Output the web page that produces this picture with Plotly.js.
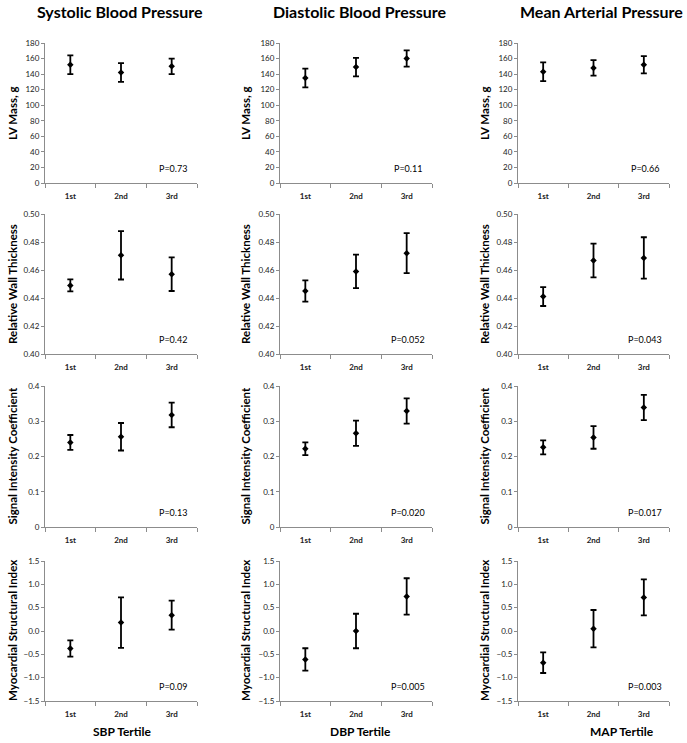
<!DOCTYPE html>
<html>
<head>
<meta charset="utf-8">
<script src="https://cdn.plot.ly/plotly-3.0.1.min.js"></script>
<style>html,body{margin:0;padding:0;background:#fff;}#chart{width:687px;height:743px;}</style>
</head>
<body>
<div id="chart"></div>
<script>
// ---- data ----
const tertiles = ['1st', '2nd', '3rd'];
const columnTitles = ['Systolic Blood Pressure', 'Diastolic Blood Pressure', 'Mean Arterial Pressure'];
const xTitles = ['SBP Tertile', 'DBP Tertile', 'MAP Tertile'];
const measureTitles = ['LV Mass, g', 'Relative Wall Thickness', 'Signal Intensity Coefficient', 'Myocardial Structural Index'];

// rows: [SBP, DBP, MAP]
const lvMassMean = [[152, 142, 150], [135, 149, 160], [143, 148, 152]];
const lvMassErr  = [[12, 12, 10], [12, 12, 10.5], [12, 10, 11]];
const lvMassP    = ['P=0.73', 'P=0.11', 'P=0.66'];

const rwtMean = [[0.449, 0.4705, 0.457], [0.445, 0.459, 0.472], [0.441, 0.4668, 0.4686]];
const rwtErr  = [[0.0043, 0.0173, 0.012], [0.0076, 0.012, 0.0143], [0.0067, 0.012, 0.0148]];
const rwtP    = ['P=0.42', 'P=0.052', 'P=0.043'];

const sicMean = [[0.240, 0.256, 0.318], [0.222, 0.266, 0.329], [0.226, 0.254, 0.339]];
const sicErr  = [[0.021, 0.039, 0.035], [0.018, 0.036, 0.036], [0.020, 0.032, 0.036]];
const sicP    = ['P=0.13', 'P=0.020', 'P=0.017'];

const msiMean = [[-0.375, 0.18, 0.34], [-0.61, 0.0, 0.74], [-0.68, 0.05, 0.72]];
const msiErr  = [[0.175, 0.54, 0.31], [0.24, 0.37, 0.39], [0.22, 0.40, 0.385]];
const msiP    = ['P=0.09', 'P=0.005', 'P=0.003'];

const yRanges = [[0, 180], [0.40, 0.50], [0, 0.4], [-1.5, 1.5]];
const yDticks = [20, 0.02, 0.1, 0.5];
const yFormats = ['d', '.2f', '', '.1f'];

// ---- layout helpers ----
const W = 687, H = 743;
const colPx = [[45, 197], [280, 432], [518, 669]];
const rowPx = [[43, 183], [214, 354], [386, 527], [561, 701]];
const yTitleX = [12, 245, 484];
const colTitleX = [120, 360, 601];
const xTitleX = [122, 360, 622];

const means = [lvMassMean, rwtMean, sicMean, msiMean];
const errs = [lvMassErr, rwtErr, sicErr, msiErr];
const ps = [lvMassP, rwtP, sicP, msiP];

const FONT = 'Lato, "Open Sans", sans-serif';
const data = [];
const layout = {
  width: W, height: H,
  margin: {l: 0, r: 0, t: 0, b: 0},
  paper_bgcolor: '#fff', plot_bgcolor: '#fff',
  showlegend: false,
  font: {family: FONT, color: '#000'},
  annotations: []
};

let idx = 0;
for (let r = 0; r < 4; r++) {
  for (let c = 0; c < 3; c++) {
    idx++;
    const sfx = idx === 1 ? '' : String(idx);
    const xa = 'xaxis' + sfx, ya = 'yaxis' + sfx;
    data.push({
      type: 'scatter', mode: 'markers',
      x: [1, 2, 3], y: means[r][c],
      xaxis: 'x' + sfx, yaxis: 'y' + sfx,
      marker: {symbol: 'diamond', size: 5, color: '#000'},
      error_y: {type: 'data', array: errs[r][c], visible: true, color: '#000', thickness: 1.8, width: 3},
      hoverinfo: 'y'
    });
    layout[xa] = {
      domain: [colPx[c][0] / W, colPx[c][1] / W],
      anchor: 'y' + sfx,
      range: [0.5, 3.5],
      tickmode: 'array', tickvals: [1, 2, 3], ticktext: tertiles,
      ticks: '', showgrid: false, zeroline: false,
      showline: true, linecolor: '#8c8c8c', linewidth: 1,
      ticklabelstandoff: 5,
      tickfont: {size: 8, color: '#222', family: FONT, weight: 'bold'},
      minor: {tick0: 0.5, dtick: 1, ticks: 'outside', ticklen: 4, tickcolor: '#8c8c8c', showgrid: false},
      fixedrange: true
    };
    layout[ya] = {
      domain: [1 - rowPx[r][1] / H, 1 - rowPx[r][0] / H],
      anchor: 'x' + sfx,
      range: yRanges[r],
      tickmode: 'linear', tick0: yRanges[r][0], dtick: yDticks[r],
      tickformat: yFormats[r],
      ticks: 'outside', ticklen: 3, tickcolor: '#8c8c8c',
      showgrid: false, zeroline: false,
      showline: true, linecolor: '#8c8c8c', linewidth: 1,
      tickfont: {size: 8, color: '#222', family: FONT},
      fixedrange: true
    };
    // P value
    const yr = yRanges[r];
    layout.annotations.push({
      xref: 'x' + sfx, yref: 'y' + sfx,
      x: 3.02, y: yr[0] + 0.105 * (yr[1] - yr[0]),
      text: ps[r][c], showarrow: false,
      font: {size: 9, color: '#000', family: FONT},
      xanchor: 'center', yanchor: 'middle'
    });
    // y title
    layout.annotations.push({
      xref: 'paper', yref: 'paper',
      x: yTitleX[c] / W, y: 1 - (rowPx[r][0] + rowPx[r][1]) / 2 / H,
      text: '<b>' + measureTitles[r] + '</b>', textangle: -90, showarrow: false,
      font: {size: 11.5, color: '#000', family: FONT},
      xanchor: 'center', yanchor: 'middle'
    });
  }
}
for (let c = 0; c < 3; c++) {
  layout.annotations.push({
    xref: 'paper', yref: 'paper', x: colTitleX[c] / W, y: 1 - 11 / H,
    text: '<b>' + columnTitles[c] + '</b>', showarrow: false,
    font: {size: 16, color: '#000', family: FONT},
    xanchor: 'center', yanchor: 'middle'
  });
  layout.annotations.push({
    xref: 'paper', yref: 'paper', x: xTitleX[c] / W, y: 1 - 731 / H,
    text: '<b>' + xTitles[c] + '</b>', showarrow: false,
    font: {size: 12, color: '#000', family: FONT},
    xanchor: 'center', yanchor: 'middle'
  });
}

Plotly.newPlot('chart', data, layout, {staticPlot: true, displayModeBar: false});
</script>
</body>
</html>
